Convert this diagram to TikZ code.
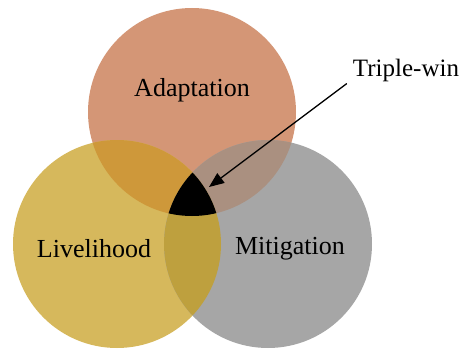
\documentclass[tikz,border=0pt]{standalone}
\usepackage{fontspec}
\setmainfont{Liberation Serif}
\usetikzlibrary{arrows.meta}

% circle fills and their overlaps
\definecolor{adapt}{RGB}{212,150,118}
\definecolor{live}{RGB}{214,184,92}
\definecolor{miti}{RGB}{166,166,166}
\definecolor{adaptlive}{RGB}{206,152,58}
\definecolor{adaptmiti}{RGB}{170,144,128}
\definecolor{livemiti}{RGB}{190,160,62}

\tikzset{
  label text/.style={font=\fontsize{26}{30}\selectfont, inner sep=0pt},
  pointer/.style={line width=1.3pt, -{Triangle[length=15pt,width=12pt]}},
}

\begin{document}
\begin{tikzpicture}[x=1pt,y=-1pt]
  \useasboundingbox (0,0) rectangle (468,350);

  % circle centres and radius
  \def\rad{104}
  \coordinate (cA) at (192,112);
  \coordinate (cL) at (117,244);
  \coordinate (cM) at (268,244);

  % the three sets
  \fill[adapt] (cA) circle (\rad);
  \fill[live]  (cL) circle (\rad);
  \fill[miti]  (cM) circle (\rad);

  % pairwise overlaps
  \begin{scope}
    \clip (cA) circle (\rad);
    \fill[adaptlive] (cL) circle (\rad);
    \fill[adaptmiti] (cM) circle (\rad);
  \end{scope}
  \begin{scope}
    \clip (cL) circle (\rad);
    \fill[livemiti] (cM) circle (\rad);
  \end{scope}

  % common region of all three
  \begin{scope}
    \clip (cA) circle (\rad);
    \clip (cL) circle (\rad);
    \fill[black] (cM) circle (\rad);
  \end{scope}

  % labels
  \node[label text] (adaptation) at (192,90) {Adaptation};
  \node[label text] (livelihood) at (94,249) {Livelihood};
  \node[label text] (mitigation) at (290,249) {Mitigation};
  \node[label text, font=\fontsize{25}{29}\selectfont] (triplewin) at (406,70) {Triple-win};

  % pointer to the common region
  \coordinate (core) at (209,187);
  \draw[pointer] ([xshift=-6pt,yshift=-2pt]triplewin.south west) -- (core);
\end{tikzpicture}
\end{document}
